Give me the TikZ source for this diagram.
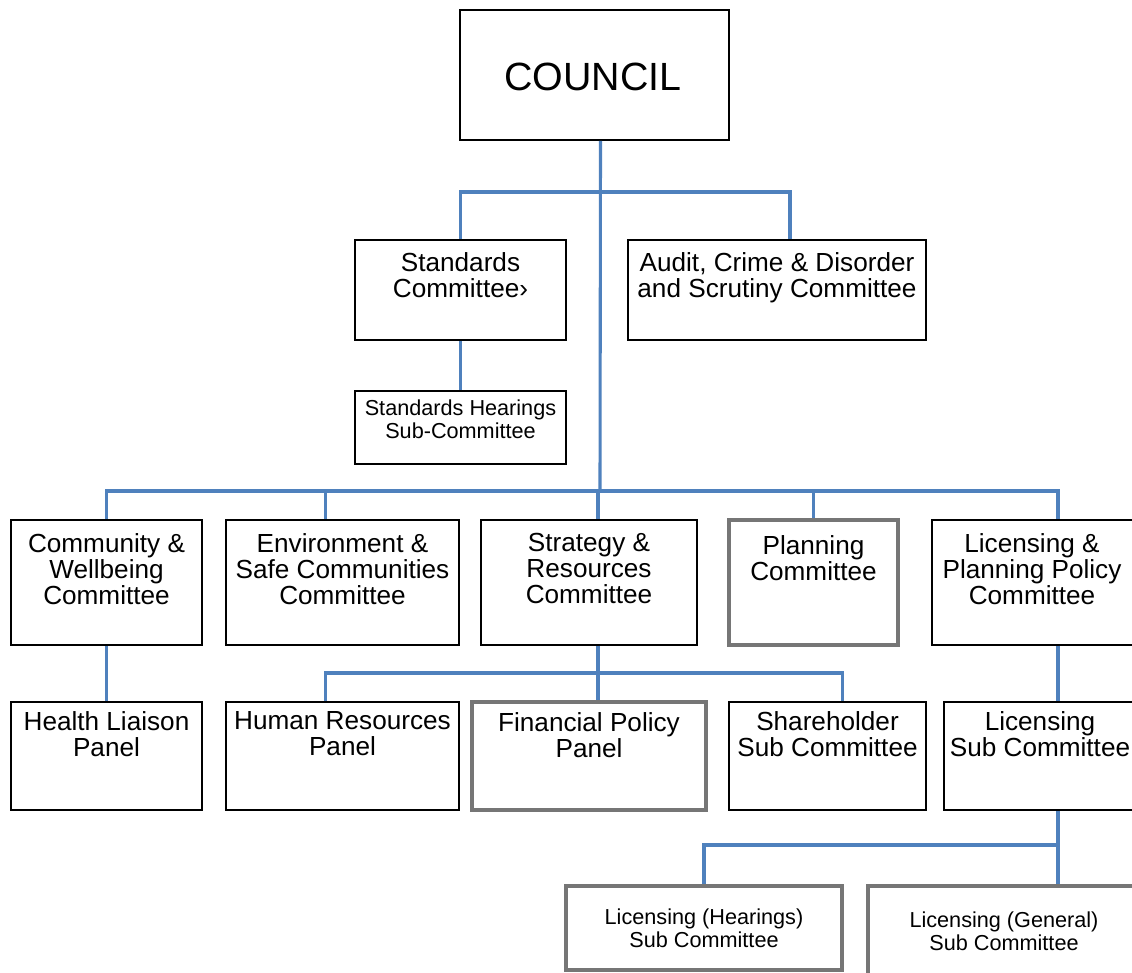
\documentclass[tikz,border=0pt]{standalone}
\usepackage{fontspec}
\setmainfont{Liberation Sans}
\usetikzlibrary{calc,fit}
\definecolor{LinkClr}{RGB}{79,129,189}
\definecolor{GreyClr}{RGB}{118,118,118}

\begin{document}
\begin{tikzpicture}[x=0.025cm,y=-0.025cm,
  box/.style={draw=black,line width=1.1pt,inner sep=0pt},
  greybox/.style={draw=GreyClr,line width=2.2pt,inner sep=0pt},
  link/.style={draw=LinkClr,line width=2.2pt},
  lbl/.style={anchor=north,align=center,inner sep=0pt,font=\fontsize{18.6}{18.5}\selectfont},
  lblsmall/.style={anchor=north,align=center,inner sep=0pt,font=\fontsize{15.4}{16.7}\selectfont}]
\useasboundingbox (0,0) rectangle (1132,973);
\clip (0,0) rectangle (1132,973);

% boxes
\node[box,fit={(460,10) (729,140)}] (council) {};
\node[box,fit={(355,240) (566,340)}] (std) {};
\node[box,fit={(628,240) (926,340)}] (aud) {};
\node[box,fit={(355,391) (566,464)}] (stdh) {};

\node[box,fit={(11,520) (202,645)}] (com) {};
\node[box,fit={(226,520) (459,645)}] (env) {};
\node[box,fit={(481,520) (697,645)}] (str) {};
\node[greybox,fit={(729,520) (898,645)}] (pla) {};
\node[box,fit={(932,520) (1138,645)}] (lpp) {};

\node[box,fit={(11,702) (202,810)}] (hea) {};
\node[box,fit={(226,702) (459,810)}] (hr) {};
\node[greybox,fit={(472,702) (706,810)}] (fin) {};
\node[box,fit={(729,702) (926,810)}] (sha) {};
\node[box,fit={(944,702) (1136,810)}] (lsub) {};

\node[greybox,fit={(566,886) (842,970)}] (lhear) {};
\node[greybox,fit={(868,886) (1140,990)}] (lgen) {};

% texts
\node[inner sep=0pt,font=\fontsize{28}{30}\selectfont] (council-t) at (593,77) {COUNCIL};
\node[lbl] (std-t) at ($(std.north)+(0,13)$) {Standards\\Committee›};
\node[lbl] (aud-t) at ($(aud.north)+(0,13)$) {Audit, Crime \& Disorder\\and Scrutiny Committee};
\node[lblsmall] (stdh-t) at ($(stdh.north)+(0,9)$) {Standards Hearings\\Sub-Committee};

\node[lbl] (com-t) at ($(com.north)+(0,14)$) {Community \&\\Wellbeing\\Committee};
\node[lbl] (env-t) at ($(env.north)+(0,14)$) {Environment \&\\Safe Communities\\Committee};
\node[lbl] (str-t) at ($(str.north)+(0,14)$) {Strategy \&\\Resources\\Committee};
\node[lbl] (pla-t) at ($(pla.north)+(0,17)$) {Planning\\Committee};
\node[lbl] (lpp-t) at ($(lpp.north)+(-3,14)$) {Licensing \&\\Planning Policy\\Committee};

\node[lbl] (hea-t) at ($(hea.north)+(0,10)$) {Health Liaison\\Panel};
\node[lbl] (hr-t) at ($(hr.north)+(0,10)$) {Human Resources\\Panel};
\node[lbl] (fin-t) at ($(fin.north)+(0,12)$) {Financial Policy\\Panel};
\node[lbl] (sha-t) at ($(sha.north)+(0,10)$) {Shareholder\\Sub Committee};
\node[lbl] (lsub-t) at ($(lsub.north)+(0,10)$) {Licensing\\Sub Committee};

\node[lblsmall] (lhear-t) at ($(lhear.north)+(0,24)$) {Licensing (Hearings)\\Sub Committee};
\node[lblsmall] (lgen-t) at ($(lgen.north)+(0,27)$) {Licensing (General)\\Sub Committee};

% connectors
\coordinate (bus1) at (601,192);
\coordinate (bus2) at (600,491);
\coordinate (bus3) at (598,673);
\coordinate (bus4) at (1058,845);

\draw[link] ($(council.south)+(6,0)$) -- (bus2);
\draw[link] (std.north) |- (bus1) -| ($(aud.north)+(13,0)$);
\draw[link] (std.south) -- (stdh.north);

\draw[link] (com.north) |- (bus2) -| ($(lpp.north)+(23,0)$);
\draw[link] ($(env.north)+(-17,0)$) |- (bus2);
\draw[link] ($(str.north)+(9,0)$) |- (bus2);
\draw[link] (pla.north) |- (bus2);

\draw[link] (com.south) -- (hea.north);
\draw[link] ($(str.south)+(9,0)$) -- ($(fin.north)+(9,0)$);
\draw[link] ($(hr.north)+(-17,0)$) |- (bus3) -| ($(sha.north)+(15,0)$);
\draw[link] ($(lpp.south)+(23,0)$) -- ($(lsub.north)+(18,0)$);

\draw[link] ($(lsub.south)+(18,0)$) -- ($(lgen.north)+(54,0)$);
\draw[link] (lhear.north) |- (bus4);
\end{tikzpicture}
\end{document}
